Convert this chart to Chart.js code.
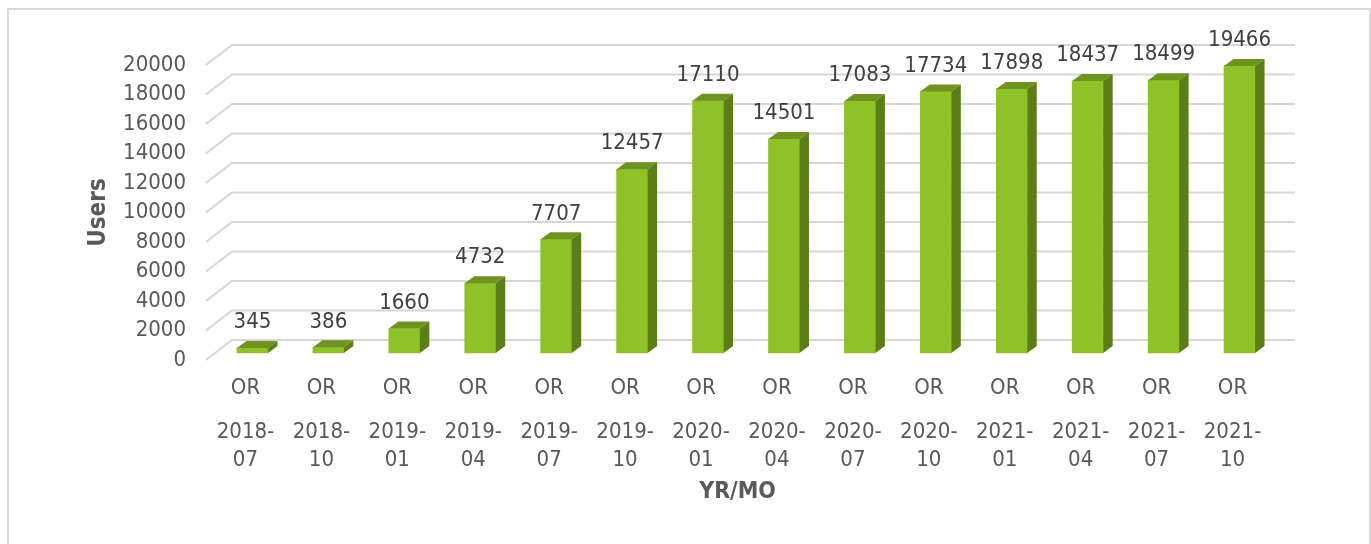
<!DOCTYPE html>
<html><head><meta charset="utf-8">
<script src="https://cdn.jsdelivr.net/npm/chart.js@4.4.1/dist/chart.umd.min.js"></script>
<style>html,body{margin:0;padding:0;background:#fff;overflow:hidden}</style>
</head><body>
<canvas id="c" width="1371" height="544"></canvas>
<script>
// ---- data ----
const prefixes = ['OR','OR','OR','OR','OR','OR','OR','OR','OR','OR','OR','OR','OR','OR'];
const periods = ['2018-07','2018-10','2019-01','2019-04','2019-07','2019-10','2020-01','2020-04','2020-07','2020-10','2021-01','2021-04','2021-07','2021-10'];
const users = [345,386,1660,4732,7707,12457,17110,14501,17083,17734,17898,18437,18499,19466];
const yRange = [0, 20000];
const yStep = 2000;
const yTitle = 'Users';
const xTitle = 'YR/MO';

// ---- style ----
const FONT = '"DejaVu Sans Condensed", "Noto Sans", sans-serif';
const AXIS_COLOR = '#595959';
const LABEL_COLOR = '#404040';
const GRID_COLOR = '#d6d6d6';
const FRONT = 'rgb(143,193,40)';
const TOP = 'rgb(110,147,30)';
const SIDE = 'rgb(92,126,22)';
const BAR_DX = 8.5, BAR_DY = -7;     // front plane -> bar plane
const DEPTH_X = 9.5, DEPTH_Y = -7;   // bar depth
const BACK_X = 26, BACK_Y = -20;     // front plane -> back wall

const threeD = {
  id: 'threeD',
  beforeDraw(chart) {
    const ctx = chart.ctx;
    ctx.save();
    ctx.fillStyle = '#fff';
    ctx.fillRect(0, 0, chart.width, chart.height);
    ctx.strokeStyle = '#d9d9d9';
    ctx.lineWidth = 2;
    ctx.strokeRect(8, 9, 1362, 560);
    ctx.restore();
  },
  beforeDatasetsDraw(chart) {
    const ctx = chart.ctx, ys = chart.scales.y, ca = chart.chartArea;
    ctx.save();
    ctx.strokeStyle = GRID_COLOR;
    ctx.lineWidth = 2;
    ys.ticks.forEach(t => {
      const y = ys.getPixelForValue(t.value);
      ctx.beginPath();
      ctx.moveTo(ca.left, y);
      ctx.lineTo(ca.left + BACK_X, y + BACK_Y);
      ctx.lineTo(ca.right + BACK_X, y + BACK_Y);
      ctx.stroke();
    });
    ctx.restore();
    ctx.save();
    ctx.translate(BAR_DX, BAR_DY);
  },
  afterDatasetsDraw(chart) {
    const ctx = chart.ctx;
    const meta = chart.getDatasetMeta(0);
    meta.data.forEach((bar, i) => {
      const p = bar.getProps(['x', 'y', 'base', 'width'], true);
      const L = p.x - p.width / 2, R = p.x + p.width / 2;
      ctx.fillStyle = TOP;
      ctx.beginPath();
      ctx.moveTo(L, p.y); ctx.lineTo(R, p.y);
      ctx.lineTo(R + DEPTH_X, p.y + DEPTH_Y); ctx.lineTo(L + DEPTH_X, p.y + DEPTH_Y);
      ctx.closePath(); ctx.fill();
      ctx.fillStyle = SIDE;
      ctx.beginPath();
      ctx.moveTo(R, p.y); ctx.lineTo(R + DEPTH_X, p.y + DEPTH_Y);
      ctx.lineTo(R + DEPTH_X, p.base + DEPTH_Y); ctx.lineTo(R, p.base);
      ctx.closePath(); ctx.fill();
      ctx.fillStyle = LABEL_COLOR;
      ctx.font = '22px ' + FONT;
      ctx.textAlign = 'center';
      ctx.textBaseline = 'middle';
      ctx.fillText(String(users[i]), p.x, p.y - 25.5);
    });
    ctx.restore();
  }
};

new Chart(document.getElementById('c'), {
  type: 'bar',
  data: {
    labels: prefixes,
    datasets: [{
      data: users,
      backgroundColor: FRONT,
      borderWidth: 0,
      barThickness: 31,
      clip: false,
      xAxisID: 'x',
      yAxisID: 'y'
    }]
  },
  options: {
    responsive: false,
    animation: false,
    devicePixelRatio: 1,
    layout: { padding: { left: 0, top: 65, right: 102, bottom: 14 } },
    plugins: { legend: { display: false }, tooltip: { enabled: false } },
    scales: {
      y: {
        min: yRange[0], max: yRange[1],
        grid: { display: false, drawTicks: false },
        border: { display: false },
        ticks: { stepSize: yStep, padding: 20, color: AXIS_COLOR, font: { family: FONT, size: 22 }, callback: v => String(v) },
        title: { display: true, text: yTitle, color: AXIS_COLOR, font: { family: FONT, size: 24, weight: 'bold' }, padding: { top: 84, bottom: 0 } },
        afterFit: s => { s.width = 206; }
      },
      x: {
        type: 'category', offset: true, weight: 0,
        grid: { display: false, drawTicks: false },
        border: { display: false },
        ticks: { padding: 15, labelOffset: 1.5, color: AXIS_COLOR, font: { family: FONT, size: 22 }, maxRotation: 0, autoSkip: false },
        afterFit: s => { s.height = 40; }
      },
      x2: {
        type: 'category', position: 'bottom', offset: true, weight: 1,
        labels: periods,
        grid: { display: false, drawTicks: false },
        border: { display: false },
        ticks: {
          padding: 18, labelOffset: 1.5, color: AXIS_COLOR, font: { family: FONT, size: 22, lineHeight: 28 / 22 },
          maxRotation: 0, autoSkip: false,
          callback: (v, i) => { const p = periods[i]; return [p.slice(0, 5), p.slice(5)]; }
        },
        title: { display: true, text: xTitle, color: AXIS_COLOR, font: { family: FONT, size: 23, weight: 'bold' }, padding: { top: 0, bottom: 24 } },
        afterFit: s => { s.height = 130; }
      }
    }
  },
  plugins: [threeD]
});
</script>
</body></html>
